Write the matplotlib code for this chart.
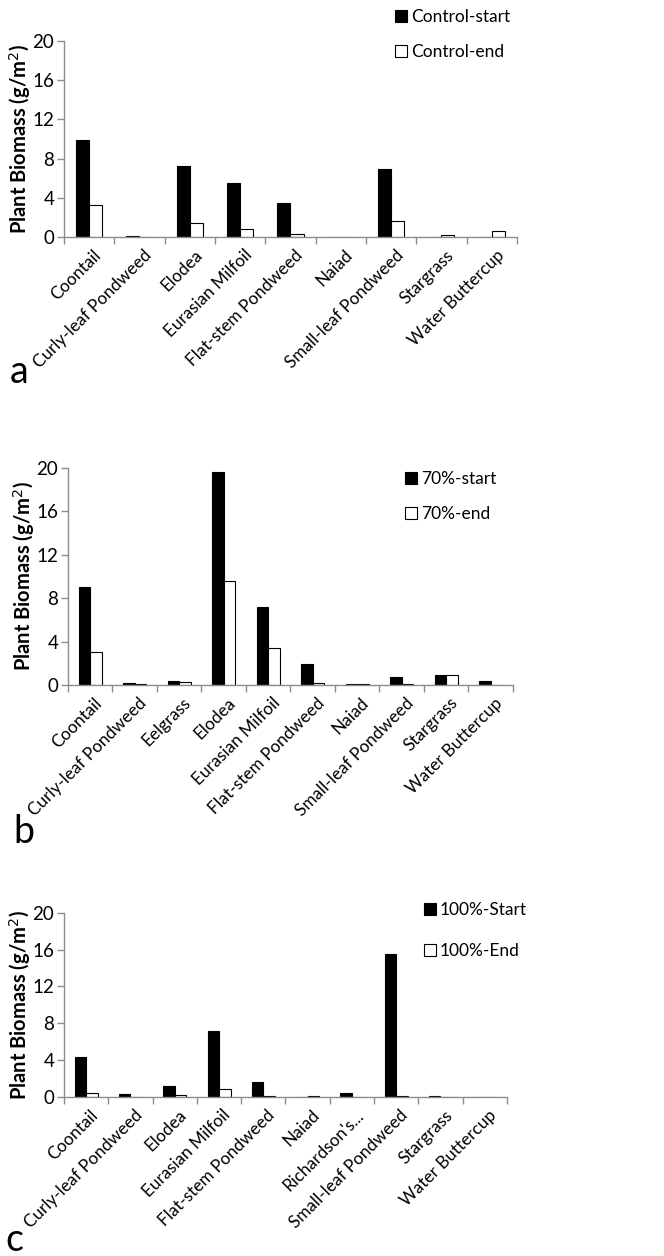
import numpy as np
import matplotlib
matplotlib.use("Agg")
import matplotlib.pyplot as plt

plt.rcParams['font.family'] = ['Lato', 'DejaVu Sans']

# panel a - control
cats_a = ["Coontail", "Curly-leaf Pondweed", "Elodea", "Eurasian Milfoil",
          "Flat-stem Pondweed", "Naiad", "Small-leaf Pondweed", "Stargrass",
          "Water Buttercup"]
start_a = [9.9, 0.1, 7.2, 5.5, 3.5, 0.0, 6.9, 0.0, 0.0]
end_a = [3.3, 0.0, 1.5, 0.8, 0.3, 0.0, 1.7, 0.2, 0.6]

# panel b - 70%
cats_b = ["Coontail", "Curly-leaf Pondweed", "Eelgrass", "Elodea",
          "Eurasian Milfoil", "Flat-stem Pondweed", "Naiad",
          "Small-leaf Pondweed", "Stargrass", "Water Buttercup"]
start_b = [9.0, 0.15, 0.35, 19.6, 7.2, 1.9, 0.1, 0.7, 0.9, 0.35]
end_b = [3.0, 0.1, 0.25, 9.6, 3.4, 0.15, 0.1, 0.1, 0.9, 0.0]

# panel c - 100%
cats_c = ["Coontail", "Curly-leaf Pondweed", "Elodea", "Eurasian Milfoil",
          "Flat-stem Pondweed", "Naiad", "Richardson's...",
          "Small-leaf Pondweed", "Stargrass", "Water Buttercup"]
start_c = [4.4, 0.4, 1.2, 7.2, 1.7, 0.0, 0.5, 15.5, 0.1, 0.0]
end_c = [0.5, 0.0, 0.25, 0.9, 0.1, 0.1, 0.0, 0.1, 0.0, 0.0]

yticks = [0, 4, 8, 12, 16, 20]

fig = plt.figure(figsize=(6.64, 12.56), dpi=100)

panels = [
    ([0.0964, 0.8111, 0.682, 0.1565], cats_a, start_a, end_a,
     ("Control-start", "Control-end"), (0.595, 0.993), 1.1, "a", (0.015, 0.695)),
    ([0.1024, 0.4546, 0.670, 0.1728], cats_b, start_b, end_b,
     ("70%-start", "70%-end"), (0.61, 0.625), 1.1, "b", (0.020, 0.329)),
    ([0.0964, 0.1264, 0.667, 0.147], cats_c, start_c, end_c,
     ("100%-Start", "100%-End"), (0.639, 0.282), 1.45, "c", (0.008, 0.004)),
]

gray = "#8c8c8c"
w = 0.26

for rect, cats, s, e, labs, lpos, lsp, letter, tpos in panels:
    ax = fig.add_axes(rect)
    x = np.arange(len(cats))
    b1 = ax.bar(x - w / 2, s, w, color="black", edgecolor="black", linewidth=0.8, label=labs[0])
    b2 = ax.bar(x + w / 2, e, w, color="white", edgecolor="black", linewidth=0.8, label=labs[1])
    ax.set_xlim(-0.5, len(cats) - 0.5)
    ax.set_ylim(0, 20)
    ax.set_yticks(yticks)
    ax.tick_params(axis="y", labelsize=13.5, color=gray, length=5, width=1, pad=2)
    # category labels at centers, tick marks at boundaries
    ax.set_xticks(x + 0.08)
    ax.set_xticklabels(cats, rotation=45, ha="right", rotation_mode="anchor", fontsize=12.3)
    ax.tick_params(axis="x", which="major", length=0, pad=7)
    ax.set_xticks(np.arange(len(cats) + 1) - 0.5, minor=True)
    ax.tick_params(axis="x", which="minor", length=5, color=gray, width=1)
    for sp in ["top", "right"]:
        ax.spines[sp].set_visible(False)
    for sp in ["left", "bottom"]:
        ax.spines[sp].set_color(gray)
        ax.spines[sp].set_linewidth(1)
    ax.set_ylabel("Plant Biomass (g/m$^{2}$)", fontsize=14.5, fontweight="bold")
    ax.yaxis.set_label_coords(-31 / (rect[2] * 664), 0.5)
    fig.legend(handles=[b1, b2], loc="upper left", bbox_to_anchor=lpos, frameon=False,
               fontsize=12.5, handlelength=0.7, handleheight=0.7, handletextpad=0.2,
               labelspacing=lsp, borderpad=0, borderaxespad=0)
    fig.text(tpos[0], tpos[1], letter, fontsize=27, ha="left", va="baseline")

fig.savefig("out.png", dpi=100)
